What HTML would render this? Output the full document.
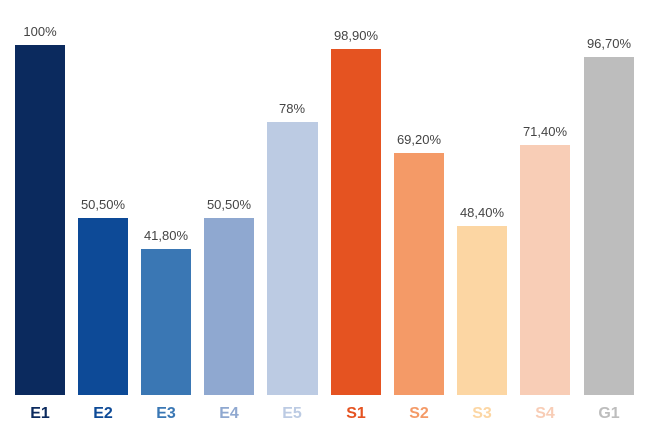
<!DOCTYPE html>
<html><head><meta charset="utf-8"><style>
body{margin:0;background:#fff;width:647px;height:430px;overflow:hidden;font-family:"Liberation Sans",sans-serif}
</style></head><body>
<svg width="647" height="430" xmlns="http://www.w3.org/2000/svg" font-family="Liberation Sans, sans-serif">
<g font-size="13" fill="#444" text-anchor="middle">
<rect x="15" y="45" width="50" height="350" fill="#0b2a5e"/><text x="40" y="36">100%</text>
<rect x="78" y="218" width="50" height="177" fill="#0d4a97"/><text x="103" y="209">50,50%</text>
<rect x="141" y="249" width="50" height="146" fill="#3a77b4"/><text x="166" y="240">41,80%</text>
<rect x="204" y="218" width="50" height="177" fill="#8fa8d0"/><text x="229" y="209">50,50%</text>
<rect x="267" y="122" width="51" height="273" fill="#bccbe3"/><text x="292" y="113">78%</text>
<rect x="331" y="49" width="50" height="346" fill="#e55321"/><text x="356" y="40">98,90%</text>
<rect x="394" y="153" width="50" height="242" fill="#f49a67"/><text x="419" y="144">69,20%</text>
<rect x="457" y="226" width="50" height="169" fill="#fcd6a3"/><text x="482" y="217">48,40%</text>
<rect x="520" y="145" width="50" height="250" fill="#f8cdb6"/><text x="545" y="136">71,40%</text>
<rect x="584" y="57" width="50" height="338" fill="#bdbdbd"/><text x="609" y="48">96,70%</text>
</g>
<g font-size="16" font-weight="bold" text-anchor="middle">
<text x="40" y="418" fill="#0b2a5e">E1</text>
<text x="103" y="418" fill="#0d4a97">E2</text>
<text x="166" y="418" fill="#3a77b4">E3</text>
<text x="229" y="418" fill="#8fa8d0">E4</text>
<text x="292" y="418" fill="#bccbe3">E5</text>
<text x="356" y="418" fill="#e55321">S1</text>
<text x="419" y="418" fill="#f49a67">S2</text>
<text x="482" y="418" fill="#fcd6a3">S3</text>
<text x="545" y="418" fill="#f8cdb6">S4</text>
<text x="609" y="418" fill="#bdbdbd">G1</text>
</g>
</svg>
</body></html>
